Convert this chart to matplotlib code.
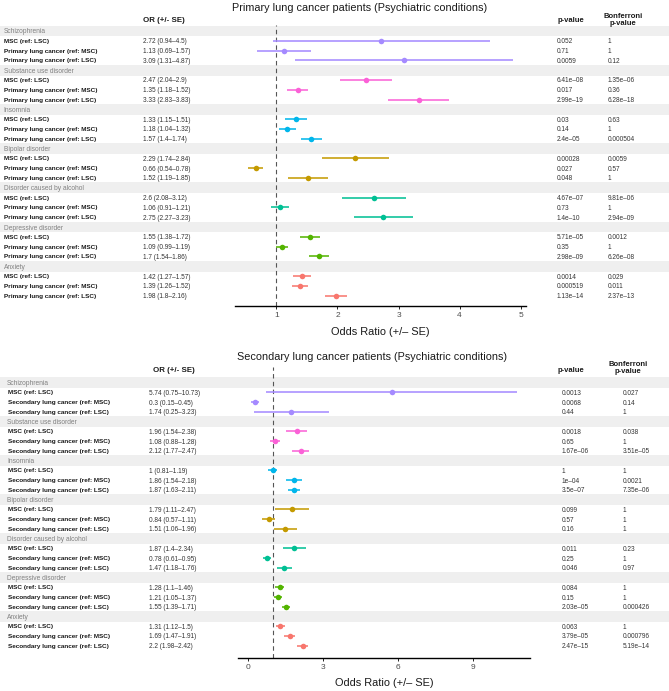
import matplotlib
matplotlib.use('Agg')
import matplotlib.pyplot as plt
from matplotlib.transforms import blended_transform_factory
from matplotlib.patches import Rectangle

plt.rcParams['font.family'] = ['Liberation Sans', 'DejaVu Sans']

W, H = 669, 691

groups = ["Schizophrenia", "Substance use disorder", "Insomnia", "Bipolar disorder",
          "Disorder caused by alcohol", "Depressive disorder", "Anxiety"]
group_colors = ["#A58AFF", "#FB61D7", "#00B6EB", "#C49A00", "#00C094", "#53B400", "#F8766D"]

# ---------------- Primary lung cancer ----------------
primary_labels = ["MSC (ref: LSC)", "Primary lung cancer (ref: MSC)", "Primary lung cancer (ref: LSC)"]
primary_or = [2.72, 1.13, 3.09, 2.47, 1.35, 3.33, 1.33, 1.18, 1.57, 2.29, 0.66, 1.52,
              2.6, 1.06, 2.75, 1.55, 1.09, 1.7, 1.42, 1.39, 1.98]
primary_lo = [0.94, 0.69, 1.31, 2.04, 1.18, 2.83, 1.15, 1.04, 1.4, 1.74, 0.54, 1.19,
              2.08, 0.91, 2.27, 1.38, 0.99, 1.54, 1.27, 1.26, 1.8]
primary_hi = [4.5, 1.57, 4.87, 2.9, 1.52, 3.83, 1.51, 1.32, 1.74, 2.84, 0.78, 1.85,
              3.12, 1.21, 3.23, 1.72, 1.19, 1.86, 1.57, 1.52, 2.16]
primary_p = ["0.052", "0.71", "0.0059", "6.41e-08", "0.017", "2.99e-19", "0.03", "0.14", "2.4e-05",
             "0.00028", "0.027", "0.048", "4.67e-07", "0.73", "1.4e-10", "5.71e-05", "0.35", "2.98e-09",
             "0.0014", "0.000519", "1.13e-14"]
primary_bonf = ["1", "1", "0.12", "1.35e-06", "0.36", "6.28e-18", "0.63", "1", "0.000504",
                "0.0059", "0.57", "1", "9.81e-06", "1", "2.94e-09", "0.0012", "1", "6.26e-08",
                "0.029", "0.011", "2.37e-13"]
primary_ticks = [1, 2, 3, 4, 5]

# ---------------- Secondary lung cancer ----------------
secondary_labels = ["MSC (ref: LSC)", "Secondary lung cancer (ref: MSC)", "Secondary lung cancer (ref: LSC)"]
secondary_or = [5.74, 0.3, 1.74, 1.96, 1.08, 2.12, 1, 1.86, 1.87, 1.79, 0.84, 1.51,
                1.87, 0.78, 1.47, 1.28, 1.21, 1.55, 1.31, 1.69, 2.2]
secondary_lo = [0.75, 0.15, 0.25, 1.54, 0.88, 1.77, 0.81, 1.54, 1.63, 1.11, 0.57, 1.06,
                1.4, 0.61, 1.18, 1.1, 1.05, 1.39, 1.12, 1.47, 1.98]
secondary_hi = [10.73, 0.45, 3.23, 2.38, 1.28, 2.47, 1.19, 2.18, 2.11, 2.47, 1.11, 1.96,
                2.34, 0.95, 1.76, 1.46, 1.37, 1.71, 1.5, 1.91, 2.42]
secondary_p = ["0.0013", "0.0068", "0.44", "0.0018", "0.65", "1.67e-06", "1", "1e-04", "3.5e-07",
               "0.099", "0.57", "0.16", "0.011", "0.25", "0.046", "0.084", "0.15", "2.03e-05",
               "0.063", "3.79e-05", "2.47e-15"]
secondary_bonf = ["0.027", "0.14", "1", "0.038", "1", "3.51e-05", "1", "0.0021", "7.35e-06",
                  "1", "1", "1", "0.23", "1", "0.97", "1", "1", "0.000426",
                  "1", "0.000796", "5.19e-14"]
secondary_ticks = [0, 3, 6, 9]

fig = plt.figure(figsize=(W / 100, H / 100), dpi=100)


def fx(x):
    return x / W


def fy(y):
    return 1 - y / H


def panel(title, labels, ors, los, his, ps, bonfs, ticks, lay):
    L, R, T, B = lay['box']
    ax = fig.add_axes([fx(L), fy(B), (R - L) / W, (B - T) / H])
    ax.set_facecolor('none')
    ax.set_ylim(lay['ylim'])
    lo_min, hi_max = min(los), max(his)
    pad = (hi_max - lo_min) * 0.05
    ax.set_xlim(lo_min - pad, hi_max + pad)
    trans = blended_transform_factory(fig.transFigure, ax.transData)

    ax.axvline(1, ls=(0, (4, 3)), color='#555555', lw=0.8, zorder=1)

    for g, gname in enumerate(groups):
        hrow = 4 * g
        ax.add_patch(Rectangle((0, hrow - 0.55), 1, 1.1, transform=trans, clip_on=False,
                               facecolor='#EFEFEF', edgecolor='none', zorder=0))
        fig.text(fx(lay['gx']), hrow, gname, transform=trans, fontsize=4.8, color='#808080',
                 va='center_baseline', ha='left')
        col = group_colors[g]
        for k in range(3):
            i = 3 * g + k
            row = hrow + 1 + k
            ax.hlines(row, los[i], his[i], color=col, lw=1.4, alpha=0.8, zorder=2)
            ax.plot([ors[i]], [row], 'o', ms=4.0, color=col, mec='none', zorder=3)
            fig.text(fx(lay['lx']), row, labels[k], transform=trans, fontsize=4.6,
                     fontweight='bold', color='#1a1a1a', va='center_baseline')
            txt = f"{ors[i]:g} ({los[i]:g}\u2013{his[i]:g})"
            fig.text(fx(lay['ox']), row, txt, transform=trans, fontsize=4.7, color='#333333',
                     va='center_baseline')
            fig.text(fx(lay['px']), row, ps[i].replace('-', '\u2013'), transform=trans,
                     fontsize=4.7, color='#333333', va='center_baseline')
            fig.text(fx(lay['bx']), row, bonfs[i].replace('-', '\u2013'), transform=trans,
                     fontsize=4.7, color='#333333', va='center_baseline')

    for s in ['top', 'right', 'left']:
        ax.spines[s].set_visible(False)
    ax.spines['bottom'].set_linewidth(1.0)
    ax.set_yticks([])
    ax.set_xticks(ticks)
    ax.tick_params(axis='x', length=2.5, width=0.6, pad=2, labelsize=6, labelcolor='#4D4D4D')

    fig.text(fx(lay['title'][0]), fy(lay['title'][1]), title, fontsize=7.8, ha='center',
             va='center', color='#1a1a1a')
    fig.text(fx(lay['xlab'][0]), fy(lay['xlab'][1]), "Odds Ratio (+/\u2013 SE)", fontsize=7.9,
             ha='center', va='center', color='#1a1a1a')
    fig.text(fx(lay['ohx']), fy(lay['hy']), "OR (+/- SE)", fontsize=5.7, fontweight='bold',
             va='center', ha='left', color='#1a1a1a')
    fig.text(fx(lay['phx']), fy(lay['hy']), "p-value", fontsize=5.5, fontweight='bold',
             va='center', ha='left', color='#1a1a1a')
    fig.text(fx(lay['bhx']), fy(lay['hy'] + lay['bdy']), "Bonferroni\np-value", fontsize=5.5,
             fontweight='bold', va='center', ha='center', color='#1a1a1a',
             linespacing=1.15, multialignment='center')
    return ax


panel("Primary lung cancer patients (Psychiatric conditions)", primary_labels,
      primary_or, primary_lo, primary_hi, primary_p, primary_bonf, primary_ticks,
      dict(box=(235, 526, 25, 306), ylim=(28.06, -0.61), gx=3.5, lx=4, ox=143, px=557,
           bx=608, title=(360, 8), xlab=(380, 332), hy=20, bdy=0, ohx=143, phx=558, bhx=623))

panel("Secondary lung cancer patients (Psychiatric conditions)", secondary_labels,
      secondary_or, secondary_lo, secondary_hi, secondary_p, secondary_bonf, secondary_ticks,
      dict(box=(238, 530, 367, 658), ylim=(28.26, -1.61), gx=7, lx=7.5, ox=149, px=562,
           bx=623, title=(372, 357), xlab=(384, 683), hy=370, bdy=-2, ohx=153, phx=558, bhx=628))

fig.savefig('out.png', dpi=100)
